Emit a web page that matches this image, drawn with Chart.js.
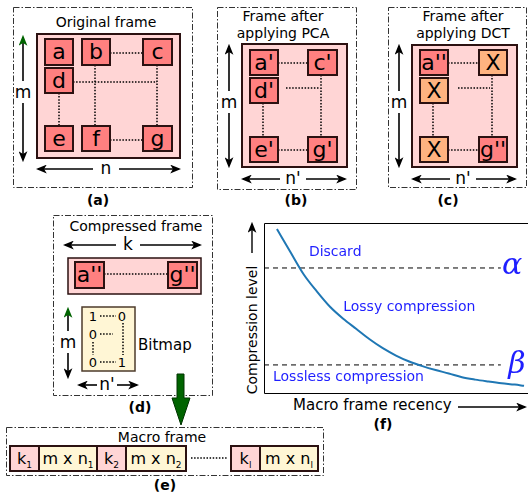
<!DOCTYPE html>
<html>
<head>
<meta charset="utf-8">
<script src="https://cdn.jsdelivr.net/npm/chart.js"></script>
<style>
  body { margin: 0; background: #fff; }
  #page { position: relative; width: 528px; height: 493px; overflow: hidden; font-family: "DejaVu Sans", sans-serif; }
  #diagram { position: absolute; left: 0; top: 0; font-family: "DejaVu Sans", sans-serif; }
  #plot { position: absolute; left: 264px; top: 223px; }
</style>
</head>
<body>
<div id="page">
  <svg id="diagram" width="528" height="493"></svg>
  <canvas id="plot" width="264" height="171"></canvas>
</div>
<script>
// (f) compression level vs macro frame recency (0..1 both axes)
const recency = [0.049, 0.10, 0.15, 0.20, 0.25, 0.30, 0.35, 0.40, 0.45, 0.50, 0.55, 0.60, 0.65, 0.70, 0.75, 0.80, 0.85, 0.90, 0.95, 0.985];
const compressionLevel = [0.965, 0.83, 0.70, 0.60, 0.51, 0.44, 0.38, 0.32, 0.268, 0.225, 0.19, 0.163, 0.14, 0.12, 0.098, 0.084, 0.073, 0.063, 0.055, 0.048];
const alphaLevel = 0.737;
const betaLevel = 0.17;
const thresholdSpan = [0, 0.897];
const regionNames = ['Discard', 'Lossy compression', 'Lossless compression'];

// ---------- diagram panels (a)-(e) ----------
const PINK = '#ffd5d5', RED = '#ff8080', ORANGE = '#ffb380', CREAM = '#fff6d5', EDGE = '#2b1111';
let svg = `<defs>
  <marker id="ah" viewBox="0 0 10 8" refX="8" refY="4" markerWidth="11" markerHeight="9" markerUnits="userSpaceOnUse" orient="auto-start-reverse"><path d="M0,0 L10,4 L0,8 L2.5,4 z" fill="#000"/></marker>
  <marker id="ahg" viewBox="0 0 10 8" refX="8" refY="4" markerWidth="11" markerHeight="9" markerUnits="userSpaceOnUse" orient="auto-start-reverse"><path d="M0,0 L10,4 L0,8 L2.5,4 z" fill="#006400"/></marker>
</defs>`;

function rect(x, y, w, h, fill, stroke, sw, dash) {
  svg += `<rect x="${x}" y="${y}" width="${w}" height="${h}" fill="${fill}" stroke="${stroke}" stroke-width="${sw}"${dash ? ` stroke-dasharray="${dash}"` : ''}/>`;
}
function text(x, y, s, size, opts = {}) {
  svg += `<text x="${x}" y="${y}" font-size="${size}" text-anchor="${opts.anchor || 'middle'}" font-weight="${opts.bold ? 'bold' : 'normal'}" fill="${opts.color || '#000'}">${s}</text>`;
}
function line(x1, y1, x2, y2, extra) {
  svg += `<line x1="${x1}" y1="${y1}" x2="${x2}" y2="${y2}" stroke="#000" ${extra}/>`;
}
function frame(x1, y1, x2, y2) {
  rect(x1 + 0.5, y1 + 0.5, x2 - x1, y2 - y1, 'none', '#333', 1, '6,2,1.5,2');
}
function cell(x, y, w, h, fill, label, size = 22) {
  rect(x, y, w, h, fill, EDGE, 2);
  text(x + w / 2, y + h / 2 + size * 0.34, label, size);
}
function dots(x1, y1, x2, y2) {
  line(x1, y1, x2, y2, 'stroke-width="1.5" stroke-dasharray="1.5,1.6"');
}
function vArrow(x, y1, y2, label, labelY, green) {
  line(x, y1, x, labelY - 12, `stroke-width="1.6" marker-start="url(#${green ? 'ahg' : 'ah'})"`);
  line(x, labelY + 10, x, y2, 'stroke-width="1.6" marker-end="url(#ah)"');
  text(x, labelY + 5, label, 17);
}
function hArrow(y, x1, x2, label, labelX, gap) {
  line(x1, y, labelX - gap, y, 'stroke-width="1.6" marker-start="url(#ah)"');
  line(labelX + gap, y, x2, y, 'stroke-width="1.6" marker-end="url(#ah)"');
  text(labelX, y + 5, label, 17);
}

// (a) original frame
frame(13, 7, 192, 187);
text(106, 27, 'Original frame', 14);
rect(37, 34, 143, 124, PINK, EDGE, 2);
dots(110, 53, 143, 53); dots(95, 65, 95, 126); dots(157, 65, 157, 126);
dots(73, 82, 157, 82); dots(59, 93, 59, 126); dots(110, 140, 143, 140);
cell(45, 39, 28, 26, RED, 'a'); cell(82, 39, 28, 26, RED, 'b'); cell(143, 39, 29, 26, RED, 'c');
cell(45, 68, 28, 25, RED, 'd');
cell(45, 126, 28, 25, RED, 'e'); cell(82, 126, 28, 25, RED, 'f'); cell(143, 126, 29, 25, RED, 'g');
vArrow(23, 37, 160, 'm', 93, true);
hArrow(169, 38, 179, 'n', 106, 13);
text(98, 205, '(a)', 14, { bold: true });

// (b) after PCA
frame(217, 7, 356, 189);
text(283, 21, 'Frame after', 14);
text(283, 38, 'applying PCA', 14);
rect(242, 44, 105, 123, PINK, EDGE, 2);
dots(278, 63, 308, 63); dots(286, 88, 320, 88); dots(321, 75, 321, 137);
dots(263, 103, 263, 137); dots(278, 150, 308, 150);
cell(250, 50, 28, 25, RED, "a'"); cell(308, 50, 29, 25, RED, "c'");
cell(250, 78, 28, 25, RED, "d'");
cell(250, 137, 28, 25, RED, "e'"); cell(308, 137, 29, 25, RED, "g'");
vArrow(229, 46, 166, 'm', 103, false);
hArrow(179, 243, 345, "n'", 293, 13);
text(296, 205, '(b)', 14, { bold: true });

// (c) after DCT
frame(388, 7, 526, 187);
text(463, 21, 'Frame after', 14);
text(463, 38, 'applying DCT', 14);
rect(412, 45, 105, 122, PINK, EDGE, 2);
dots(448, 63, 479, 63); dots(458, 88, 490, 88); dots(492, 75, 492, 137);
dots(433, 103, 433, 137); dots(448, 150, 479, 150);
cell(420, 50, 28, 25, RED, "a''"); cell(479, 50, 28, 25, ORANGE, 'X');
cell(420, 78, 28, 25, ORANGE, 'X');
cell(420, 137, 28, 25, ORANGE, 'X'); cell(479, 137, 28, 25, RED, "g''");
vArrow(399, 46, 166, 'm', 103, false);
hArrow(179, 413, 515, "n'", 463, 13);
text(448, 205, '(c)', 14, { bold: true });

// (d) compressed frame
frame(53, 215, 212, 395);
text(136, 231, 'Compressed frame', 14);
hArrow(245, 65, 200, 'k', 128, 12);
rect(68, 258, 133, 36, PINK, EDGE, 1.5);
dots(104, 274, 168, 274);
cell(75, 262, 29, 26, RED, "a''"); cell(168, 262, 29, 26, RED, "g''");
rect(82, 307, 53, 64, CREAM, '#4d3b2b', 1.5);
dots(100, 316, 116, 316); dots(100, 334, 113, 334); dots(123, 323, 123, 355);
dots(93, 342, 93, 355); dots(100, 362, 116, 362);
text(93, 321, '1', 13); text(122, 321, '0', 13); text(93, 339, '0', 13);
text(93, 367, '0', 13); text(122, 367, '1', 13);
text(138, 350, 'Bitmap', 15, { anchor: 'start' });
vArrow(68, 309, 377, 'm', 343, true);
hArrow(385, 79, 137, "n'", 107, 10);
text(140, 412, '(d)', 14, { bold: true });

// big arrow from (d) down to (e)
svg += `<path d="M177,374 L184,374 L184,398 L190,398 L181,425 L172,398 L177,398 Z" fill="#006400" stroke="#003300" stroke-width="1"/>`;

// (e) macro frame
frame(6, 427, 323, 475);
text(162, 442, 'Macro frame', 14);
const sub = s => `<tspan font-size="9" dy="4">${s}</tspan>`;
rect(10, 446, 29, 25, PINK, EDGE, 2);   text(24.5, 464, 'k' + sub('1'), 16);
rect(39, 446, 58, 25, CREAM, EDGE, 2);  text(68, 464, 'm x n' + sub('1'), 16);
rect(97, 446, 29, 25, PINK, EDGE, 2);   text(111.5, 464, 'k' + sub('2'), 16);
rect(126, 446, 60, 25, CREAM, EDGE, 2); text(156, 464, 'm x n' + sub('2'), 16);
dots(191, 458, 227, 458);
rect(231, 446, 29, 25, PINK, EDGE, 2);  text(245.5, 464, 'k' + sub('l'), 16);
rect(260, 446, 58, 25, CREAM, EDGE, 2); text(289, 464, 'm x n' + sub('l'), 16);
text(165, 490, '(e)', 14, { bold: true });

// (f) axis titles around the Chart.js plot
svg += `<text x="0" y="0" font-size="14" text-anchor="middle" transform="translate(257,330) rotate(-90)">Compression level</text>`;
line(252, 253, 252, 224, 'stroke-width="1.4" marker-end="url(#ah)"');
text(293, 410, 'Macro frame recency', 15, { anchor: 'start' });
line(458, 407, 525, 407, 'stroke-width="1.4" marker-end="url(#ah)"');
text(383, 429, '(f)', 14, { bold: true });

document.getElementById('diagram').innerHTML = svg;

// ---------- (f) chart ----------
const notes = [
  { text: regionNames[0], x: 0.17, y: 0.826 },
  { text: regionNames[1], x: 0.30, y: 0.508 },
  { text: regionNames[2], x: 0.034, y: 0.098 }
];

const plotDecor = {
  id: 'plotDecor',
  afterDatasetsDraw(chart) {
    const { ctx, chartArea: a, scales: { x, y } } = chart;
    ctx.save();
    ctx.strokeStyle = '#000';
    ctx.lineWidth = 1;
    ctx.beginPath();
    ctx.moveTo(a.right, a.top + 0.5);
    ctx.lineTo(a.left + 0.5, a.top + 0.5);
    ctx.lineTo(a.left + 0.5, a.bottom - 0.5);
    ctx.lineTo(a.right, a.bottom - 0.5);
    ctx.stroke();

    ctx.fillStyle = '#1f1fff';
    ctx.font = '14px "DejaVu Sans"';
    ctx.textAlign = 'left';
    ctx.textBaseline = 'middle';
    notes.forEach(n => ctx.fillText(n.text, x.getPixelForValue(n.x), y.getPixelForValue(n.y)));

    ctx.font = 'italic 30px "DejaVu Serif"';
    ctx.textAlign = 'center';
    ctx.fillText('α', x.getPixelForValue(0.94), y.getPixelForValue(alphaLevel) - 2);
    ctx.fillText('β', x.getPixelForValue(0.958), y.getPixelForValue(betaLevel));
    ctx.restore();
  }
};

new Chart(document.getElementById('plot'), {
  type: 'line',
  data: {
    datasets: [
      {
        data: recency.map((r, i) => ({ x: r, y: compressionLevel[i] })),
        borderColor: '#1f77b4',
        borderWidth: 2,
        cubicInterpolationMode: 'monotone'
      },
      {
        data: thresholdSpan.map(r => ({ x: r, y: alphaLevel })),
        borderColor: '#000',
        borderWidth: 1,
        borderDash: [5, 4]
      },
      {
        data: thresholdSpan.map(r => ({ x: r, y: betaLevel })),
        borderColor: '#000',
        borderWidth: 1,
        borderDash: [5, 4]
      }
    ]
  },
  options: {
    responsive: false,
    animation: false,
    layout: { padding: 0 },
    elements: { point: { radius: 0 } },
    scales: {
      x: { type: 'linear', min: 0, max: 1, display: false },
      y: { min: 0, max: 1, display: false }
    },
    plugins: { legend: { display: false }, tooltip: { enabled: false } }
  },
  plugins: [plotDecor]
});
</script>
</body>
</html>
